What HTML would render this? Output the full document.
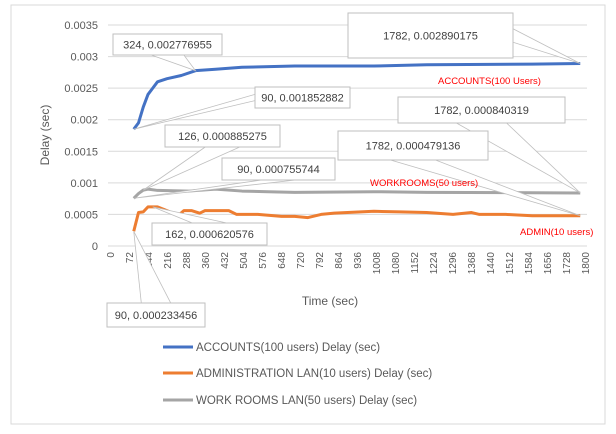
<!DOCTYPE html>
<html><head><meta charset="utf-8"><style>
body{margin:0;background:#fff;font-family:"Liberation Sans",sans-serif}
svg{display:block}
</style></head><body>
<svg id="c" width="616" height="434" font-family="Liberation Sans, sans-serif">
<rect x="11" y="5" width="594" height="419" fill="#fff" stroke="#d9d9d9"/>
<g id="grid"></g><g id="axes"></g><g id="series"></g><g id="labels"></g>
<text x="330" y="305" font-size="12" fill="#595959" text-anchor="middle">Time (sec)</text>
<text transform="translate(49,135) rotate(-90)" font-size="12" fill="#595959" text-anchor="middle">Delay (sec)</text>
<g font-size="11.5" fill="#595959">
<line x1="163" y1="347" x2="193" y2="347" stroke="#4472c4" stroke-width="3"/>
<text x="196" y="351">ACCOUNTS(100 users) Delay (sec)</text>
<line x1="163" y1="373" x2="193" y2="373" stroke="#ed7d31" stroke-width="3"/>
<text x="196" y="377">ADMINISTRATION LAN(10 users) Delay (sec)</text>
<line x1="163" y1="400" x2="193" y2="400" stroke="#a5a5a5" stroke-width="3"/>
<text x="196" y="404">WORK ROOMS LAN(50 users) Delay (sec)</text>
</g>
<g font-size="9.5" fill="#ff0000">
<text x="438" y="84">ACCOUNTS(100 Users)</text>
<text x="370" y="186">WORKROOMS(50 users)</text>
<text x="520" y="235">ADMIN(10 users)</text>
</g>
</svg>
<script>
const yTicks=[0,0.0005,0.001,0.0015,0.002,0.0025,0.003,0.0035];
const yTickLabels=["0","0.0005","0.001","0.0015","0.002","0.0025","0.003","0.0035"];
const xTicks=[0,72,144,216,288,360,432,504,576,648,720,792,864,936,1008,1080,1152,1224,1296,1368,1440,1512,1584,1656,1728,1800];
const accT=[90,108,126,144,162,180,216,270,324,400,500,700,1000,1200,1600,1782];
const accV=[0.00185,0.00195,0.0022,0.0024,0.0025,0.0026,0.00265,0.0027,0.002777,0.0028,0.00283,0.00285,0.00285,0.00287,0.00288,0.00289];
const admT=[90,108,126,144,162,180,216,258,280,310,340,360,400,450,480,560,650,700,750,800,850,900,1000,1100,1200,1300,1370,1400,1500,1600,1782];
const admV=[0.000233,0.00053,0.00054,0.00062,0.00062,0.00062,0.00056,0.00048,0.00056,0.00056,0.00052,0.00056,0.00056,0.00056,0.0005,0.0005,0.00047,0.00047,0.00045,0.0005,0.00052,0.00053,0.00055,0.00054,0.00053,0.0005,0.00053,0.0005,0.0005,0.00048,0.000479];
const wrkT=[90,108,126,144,180,300,400,500,600,700,1000,1200,1782];
const wrkV=[0.000756,0.00083,0.000885,0.0009,0.00088,0.00087,0.0009,0.00087,0.00086,0.00085,0.00086,0.00085,0.00084];
const NS="http://www.w3.org/2000/svg";
function X(t){return 110+t/72*19.0;}
function Y(v){return 246-v/0.0035*221;}
function mk(tag,attrs,parent){const e=document.createElementNS(NS,tag);for(const k in attrs)e.setAttribute(k,attrs[k]);parent.appendChild(e);return e;}
const grid=document.getElementById('grid'),axes=document.getElementById('axes'),ser=document.getElementById('series'),lab=document.getElementById('labels');
yTicks.forEach((v,i)=>{
 const l=mk('line',{x1:108,x2:587,y1:Y(v),y2:Y(v),stroke:'#d9d9d9'},grid);
 
 
 const t=mk('text',{x:98,y:Y(v)+4,'font-size':11,fill:'#595959','text-anchor':'end'},axes);
 t.textContent=yTickLabels[i];
 
 
});
xTicks.forEach(v=>{
 const t=mk('text',{transform:`translate(${X(v)+4},252) rotate(-90)`,'font-size':10,fill:'#595959','text-anchor':'end'},axes);
 t.textContent=v;
 
 
});
function line(T,V,c,name){
 const p=mk('polyline',{points:T.map((t,i)=>X(t)+','+Y(V[i])).join(' '),fill:'none',stroke:c,'stroke-width':3,'stroke-linejoin':'round'},ser);
 
 
}
line(wrkT,wrkV,'#a5a5a5','series-workrooms');
line(admT,admV,'#ed7d31','series-admin');
line(accT,accV,'#4472c4','series-accounts');
const callouts=[
 ['324, 0.002776955',113,34,109,21,324,0.002777],
 ['1782, 0.002890175',348,13,165,45,1782,0.00289],
 ['90, 0.001852882',255,87,95,21,90,0.00185],
 ['126, 0.000885275',165,125,115,22,126,0.000885],
 ['90, 0.000755744',222,158,113,22,90,0.000756],
 ['1782, 0.000840319',398,97,167,26,1782,0.00084],
 ['1782, 0.000479136',338,131,150,29,1782,0.000479],
 ['162, 0.000620576',152,223,115,22,162,0.00062],
 ['90, 0.000233456',107,303,98,24,90,0.000233]
];
callouts.forEach(c=>{
 const [txt,bx,by,bw,bh,t,v]=c;
 const px=X(t),py=Y(v);
 const cx=bx+bw/2,cy=by+bh/2;
 const horiz=Math.abs(px-cx)/bw>Math.abs(py-cy)/bh;
 let a,b;
 if(horiz){const ex=px<cx?bx:bx+bw;a=[ex,by+bh*0.35];b=[ex,by+bh*0.65];}
 else{const ey=py<cy?by:by+bh;a=[cx-bw*0.15,ey];b=[cx+bw*0.15,ey];}
 const g=mk('g',{},lab);
 
 
 mk('polygon',{points:`${a[0]},${a[1]} ${px},${py} ${b[0]},${b[1]}`,fill:'#fff',stroke:'#bfbfbf','stroke-width':0.8},g);
 mk('rect',{x:bx,y:by,width:bw,height:bh,fill:'#fff',stroke:'#bfbfbf'},g);
 const tt=mk('text',{x:cx,y:cy+4,'font-size':11,fill:'#404040','text-anchor':'middle'},g);
 tt.textContent=txt;
});
</script>
</body></html>
